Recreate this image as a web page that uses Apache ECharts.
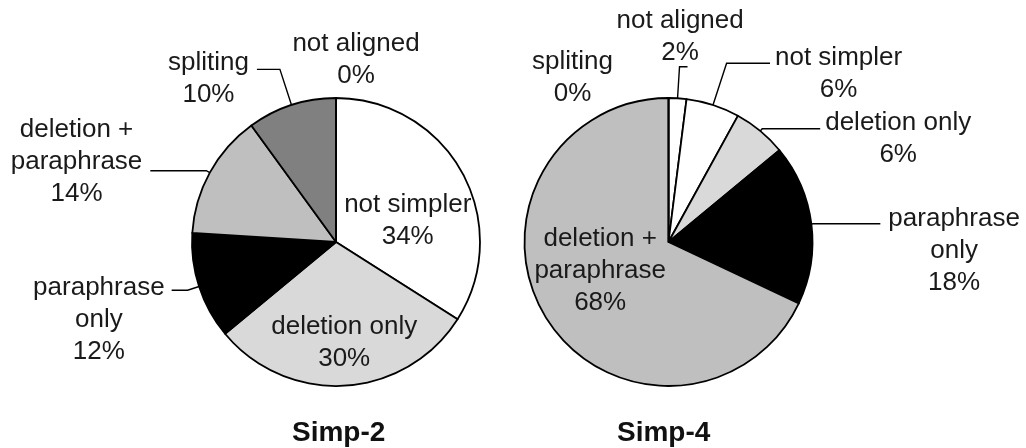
<!DOCTYPE html>
<html>
<head>
<meta charset="utf-8">
<script src="https://cdn.jsdelivr.net/npm/echarts@6/dist/echarts.min.js"></script>
<style>html,body{margin:0;padding:0;background:#fff;}#c{width:1026px;height:448px;}</style>
</head>
<body>
<div id="c"></div>
<script>
// ---- data ----
const titles = ['Simp-2', 'Simp-4'];
const categoriesSimp2 = ['not simpler', 'deletion only', 'paraphrase only', 'deletion + paraphrase', 'spliting', 'not aligned'];
const valuesSimp2 = [34, 30, 12, 14, 10, 0];
const categoriesSimp4 = ['not aligned', 'not simpler', 'deletion only', 'paraphrase only', 'deletion + paraphrase', 'spliting'];
const valuesSimp4 = [2, 6, 6, 18, 68, 0];

// ---- styling ----
const colorMap = {
  'not simpler': '#ffffff',
  'deletion only': '#d9d9d9',
  'paraphrase only': '#000000',
  'deletion + paraphrase': '#bfbfbf',
  'spliting': '#808080',
  'not aligned': '#ffffff'
};
const displayName = {
  'deletion + paraphrase': 'deletion +\nparaphrase',
  'paraphrase only': 'paraphrase\nonly'
};
const FONT = '"Liberation Sans", Arial, Helvetica, sans-serif';

// label placement config (per pie, keyed by category)
const layout2 = {
  'not simpler': { pos: 'inside', pad: [30, 0, 0, 12] },
  'deletion only': { pos: 'inside', pad: [52, 0, 0, 7] },
  'paraphrase only': { len: 12, len2: 16, dist: 7, pad: [60, 0, 0, 0] },
  'deletion + paraphrase': { len: 4, len2: 56, dist: 8, pad: [0, 0, 18, 0] },
  'spliting': { len: 37.5, len2: 23, dist: 8, pad: [18, 0, 0, 0] },
  'not aligned': { len: 38, len2: 0, dist: 0, noLine: true, align: 'center', pad: [0, 0, 0, 40] }
};
const layout4 = {
  'not aligned': { len: 31.6, len2: 8, dist: 5, shift: [-76, -30] },
  'not simpler': { len: 44, len2: 43.4, dist: 5, pad: [22, 0, 0, 0] },
  'deletion only': { len: 3, len2: 58, dist: 5, pad: [20, 0, 0, 0] },
  'paraphrase only': { len: 2, len2: 67, dist: 8, pad: [55, 0, 0, 0] },
  'deletion + paraphrase': { pos: 'inside', pad: [0, 10, 22, 0] },
  'spliting': { len: 20.5, len2: 0, dist: 0, noLine: true, align: 'center', pad: [0, 192, 0, 0] }
};

function buildData(cats, vals, lay) {
  return cats.map((name, i) => {
    const L = lay[name];
    return {
      name: name,
      value: vals[i],
      itemStyle: { color: colorMap[name] },
      label: {
        position: L.pos || 'outside',
        padding: L.pad || 0,
        distanceToLabelLine: L.dist != null ? L.dist : 5
      },
      labelLine: {
        show: !L.noLine && L.pos !== 'inside',
        length: L.len || 0,
        length2: L.len2 || 0
      }
    };
  });
}

function fmt(p) {
  const txt = (displayName[p.name] || p.name) + '\n' + p.value + '%';
  return txt.split('\n').map(s => '{c|' + s + '}').join('\n');
}

function makeSeries(cats, vals, lay, center) {
  return {
    type: 'pie',
    center: center,
    radius: 144,
    startAngle: 90,
    clockwise: true,
    avoidLabelOverlap: false,
    silent: true,
    animation: false,
    minShowLabelAngle: 0,
    itemStyle: { borderColor: '#000', borderWidth: 1.8 },
    emphasis: { disabled: true },
    label: {
      show: true,
      formatter: fmt,
      rich: {
        c: { align: 'center', fontSize: 26, lineHeight: 32, fontFamily: FONT, color: '#1a1a1a' }
      }
    },
    labelLine: {
      smooth: false,
      minTurnAngle: 0,
      maxSurfaceAngle: 180,
      lineStyle: { color: '#000', width: 1.4 }
    },
    labelLayout: function (params) {
      const name = cats[params.dataIndex];
      const L = lay[name];
      const o = {};
      if (!L) return o;
      if (L.align) o.align = L.align;
      if (L.shift) { o.dx = L.shift[0]; o.dy = L.shift[1]; }
      return o;
    },
    data: buildData(cats, vals, lay)
  };
}

const chart = echarts.init(document.getElementById('c'), null, { renderer: 'canvas' });
chart.setOption({
  animation: false,
  backgroundColor: '#ffffff',
  title: [
    { text: titles[0], left: 292, top: 418, padding: 0,
      textStyle: { fontSize: 28, fontWeight: 'bold', fontFamily: FONT, color: '#111', lineHeight: 30 } },
    { text: titles[1], left: 617, top: 418, padding: 0,
      textStyle: { fontSize: 28, fontWeight: 'bold', fontFamily: FONT, color: '#111', lineHeight: 30 } }
  ],
  series: [
    makeSeries(categoriesSimp2, valuesSimp2, layout2, [336, 242]),
    makeSeries(categoriesSimp4, valuesSimp4, layout4, [668.5, 242])
  ]
});
</script>
</body>
</html>
